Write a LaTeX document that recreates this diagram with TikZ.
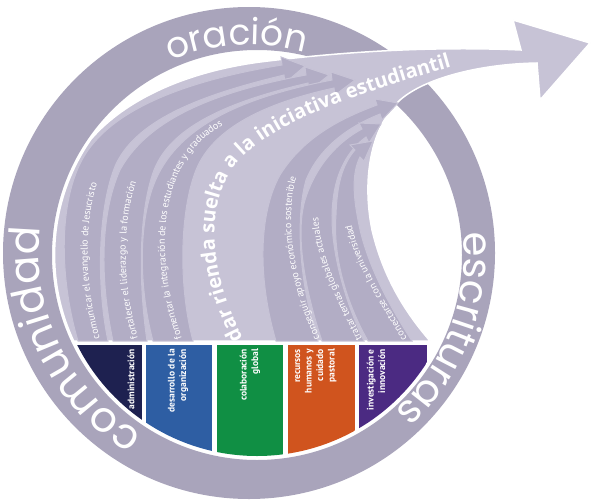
\documentclass[tikz,border=0pt]{standalone}
\usepackage{fontspec}
\setmainfont{PT Sans}
\newfontfamily\ringfont{Poppins}
\newfontfamily\bigfont{Open Sans}
\usetikzlibrary{decorations.text}

\definecolor{ringgray}{RGB}{169,164,187}
\definecolor{fanlight}{RGB}{199,195,214}
\definecolor{strandgray}{RGB}{178,173,197}
\definecolor{adminblue}{RGB}{30,33,80}
\definecolor{orgblue}{RGB}{46,94,163}
\definecolor{globgreen}{RGB}{16,143,68}
\definecolor{pastorange}{RGB}{208,84,30}
\definecolor{innovpurple}{RGB}{75,42,130}

\tikzset{%
  ringband/.style   = {fill=ringgray, even odd rule},%
  fan/.style        = {fill=fanlight, draw=white, line width=1.5pt},%
  strand/.style     = {fill=strandgray, draw=fanlight, line width=1pt},%
  collabel/.style   = {rotate=90, anchor=east, align=right, inner sep=0pt,%
                       text=white, font=\bfseries\fontsize{9.5}{11.5}\selectfont},%
  ringword/.style   = {decorate, decoration={text along path, text align=center,%
                       text color=white, text={#1}}},%
  strandword/.style = {decorate, decoration={text along path, text color=white,%
                       text={|\fontsize{10}{12}\selectfont|#1}}},%
  bigword/.style    = {decorate, decoration={text along path, text color=white,%
                       text={|\bigfont\bfseries\fontsize{20}{20}\selectfont|#1}}}%
}

\begin{document}
\begin{tikzpicture}[x=1pt,y=-1pt]
  \useasboundingbox (0,0) rectangle (591,503);
  \coordinate (outc) at (249,253);
  \coordinate (innc) at (257,255);

  % ring and its three words
  \fill[ringband] (outc) circle (246) (innc) circle (205);
  \path[ringword={|\ringfont\fontsize{36}{36}\selectfont|oración}]
    (outc) ++(226.7:208) arc[start angle=226.7, end angle=306.7, radius=208];
  \path[ringword={|\ringfont\fontsize{40}{40}\selectfont|escrituras}]
    (outc) ++(-19:215) arc[start angle=-19, end angle=61, radius=215];
  \path[ringword={|\ringfont\fontsize{42}{42}\selectfont|comunidad}]
    (outc) ++(113.7:210) arc[start angle=113.7, end angle=193.7, radius=210];

  % fan with the big arrow
  \draw[fan] (73.7,341) arc[start angle=154.9, end angle=215, radius=202.5]
    .. controls (125,100) and (185,72) .. (260,62)
    .. controls (340,52) and (430,46) .. (521,50)
    -- (513,20) -- (590,43) -- (540,100) -- (537,63)
    .. controls (480,64) and (425,78) .. (400,100)
    .. controls (370,128) and (362,180) .. (372,230)
    .. controls (385,285) and (412,320) .. (430,341) -- cycle;

  % left strands
  \draw[strand] (78,341) .. controls (60,280) and (58,205) .. (82,160)
    .. controls (110,108) and (190,80) .. (282,65)
    -- (281,57) -- (305,66) -- (285,83) -- (284,75)
    .. controls (205,94) and (138,118) .. (116,164)
    .. controls (98,205) and (96,285) .. (108,341) -- cycle;
  \draw[strand] (113,341) .. controls (100,280) and (100,215) .. (120,170)
    .. controls (150,115) and (225,90) .. (306,75)
    -- (305,67) -- (329,75) -- (309,91) -- (308,83)
    .. controls (235,100) and (172,124) .. (154,170)
    .. controls (139,210) and (138,280) .. (147,341) -- cycle;
  \draw[strand] (153,341) .. controls (138,285) and (138,215) .. (158,175)
    .. controls (185,120) and (255,95) .. (332,80)
    -- (331,72) -- (355,80) -- (335,95) -- (334,88)
    .. controls (265,103) and (213,128) .. (196,170)
    .. controls (180,210) and (178,285) .. (193,341) -- cycle;

  % right strands
  \draw[strand] (276,341) .. controls (258,280) and (258,215) .. (280,175)
    .. controls (305,135) and (345,117) .. (377,105)
    -- (375,99) -- (398,103) -- (382,120) -- (380,114)
    .. controls (350,126) and (320,146) .. (306,180)
    .. controls (296,215) and (298,280) .. (318,341) -- cycle;
  \draw[strand] (322,341) .. controls (305,290) and (295,235) .. (305,200)
    .. controls (316,165) and (338,142) .. (362,129)
    -- (359,123) -- (381,124) -- (369,143) -- (366,137)
    .. controls (348,150) and (336,172) .. (333,200)
    .. controls (328,240) and (342,295) .. (364,341) -- cycle;
  \draw[strand] (368,341) .. controls (345,300) and (333,255) .. (336,215)
    .. controls (337,185) and (342,165) .. (355,150)
    -- (350,145) -- (373,141) -- (364,161) -- (360,157)
    .. controls (352,172) and (353,195) .. (358,220)
    .. controls (366,265) and (392,310) .. (412,341) -- cycle;

  % words on the strands
  \path[strandword={comunicar el evangelio de Jesucristo}]
    (100,338) .. controls (84,285) and (82,215) .. (103,168)
    .. controls (125,125) and (180,100) .. (250,85);
  \path[strandword={fortalecer el liderazgo y la formación}]
    (138,338) .. controls (122,285) and (120,215) .. (142,168)
    .. controls (165,125) and (215,102) .. (280,88);
  \path[strandword={fomentar la integración de los estudiantes y graduados}]
    (182,338) .. controls (163,285) and (158,220) .. (177,178)
    .. controls (192,138) and (228,113) .. (300,97);
  \path[strandword={conseguir apoyo económico sostenible}]
    (320,338) .. controls (298,290) and (284,230) .. (295,182)
    .. controls (304,150) and (330,130) .. (365,115);
  \path[strandword={tratar temas globales actuales}]
    (362,338) .. controls (339,295) and (320,255) .. (318,215)
    .. controls (316,190) and (326,168) .. (345,152);
  \path[strandword={conectarse con la universidad}]
    (407,338) .. controls (384,300) and (361,265) .. (353,230)
    .. controls (347,205) and (350,185) .. (360,165);
  \path[bigword={dar rienda suelta a la iniciativa estudiantil}]
    (243,338) .. controls (208,270) and (205,205) .. (235,165)
    .. controls (275,118) and (370,90) .. (485,57);

  % coloured columns
  \begin{scope}
    \clip (innc) circle (201);
    \fill[adminblue]   (75,345)  rectangle (142,480);
    \fill[orgblue]     (146,345) rectangle (212,480);
    \fill[globgreen]   (217,345) rectangle (283,480);
    \fill[pastorange]  (288,345) rectangle (355,480);
    \fill[innovpurple] (359,345) rectangle (427,480);
  \end{scope}
  \node[collabel] (admin)  at (131,349) {administración};
  \node[collabel] (desorg) at (178,349) {desarrollo de la\\organización};
  \node[collabel] (colab)  at (250,349) {colaboración\\global};
  \node[collabel] (recur)  at (316,349) {recursos\\humanos y\\cuidado\\pastoral};
  \node[collabel] (invest) at (376,349) {investigación e\\innovación};
\end{tikzpicture}
\end{document}
